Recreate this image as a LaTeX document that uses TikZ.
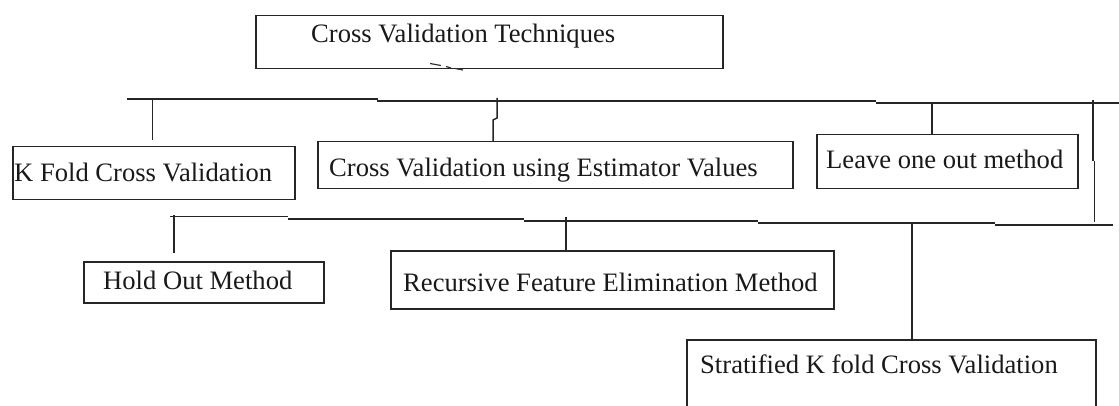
\documentclass[tikz,border=0pt]{standalone}
\usepackage{fontspec}
\setmainfont{Liberation Serif}
\begin{document}
\begin{tikzpicture}[x=1pt,y=-1pt,
  box/.style={draw=black!85, line width=1.5pt, inner sep=0pt, anchor=north west},
  txt/.style={inner sep=0pt, anchor=base west, font=\fontsize{26.6}{30}\selectfont, text=black!90},
  ln/.style={draw=black!85, line width=1.5pt}]
\clip (0,0) rectangle (1119,406);
% boxes
\node[box, minimum width=467pt, minimum height=53pt] (top) at (255,15) {};
\node[box, minimum width=282pt, minimum height=53pt] (kf) at (12,146) {};
\node[box, minimum width=475pt, minimum height=47pt] (est) at (317,141) {};
\node[box, minimum width=261pt, minimum height=54pt] (loo) at (816,134) {};
\node[box, minimum width=240pt, minimum height=41pt] (ho) at (83,261) {};
\node[box, minimum width=443pt, minimum height=58pt] (rfe) at (390,250) {};
\node[box, minimum width=409pt, minimum height=90pt] (skf) at (686,339) {};
% texts
\node[txt] (topt) at (311,43) {Cross Validation Techniques};
\node[txt] (kft) at (14,182) {K Fold Cross Validation};
\node[txt] (estt) at (329,177) {Cross Validation using Estimator Values};
\node[txt] (loot) at (826,169) {Leave one out method};
\node[txt] (hot) at (103,289) {Hold Out Method};
\node[txt] (rfet) at (403,291) {Recursive Feature Elimination Method};
\node[txt] (skft) at (700,373) {Stratified K fold Cross Validation};
% small mark under the title box
\draw[line width=1.2pt, black!80] (430,63.5) -- (441,65.5) (446,66.5) -- (451,68) (455,68.5) -- (463,70);
% upper bus
\coordinate (b1) at (127,99);
\coordinate (b2) at (378,99);
\coordinate (b3) at (377,101);
\coordinate (b4) at (876,101);
\coordinate (b5) at (876,103);
\coordinate (b6) at (1119,103);
\draw[ln] (b1) -- (b2);
\draw[ln] (b3) -- (b4);
\draw[ln] (b5) -- (b6);
% connectors from upper bus
\coordinate (kfa) at (152.5,99);
\coordinate (kfb) at (152.5,140);
\draw[ln] (kfa) -- (kfb);
\coordinate (esa) at (497,98);
\draw[ln] (esa) -- (497,118) -- (493,120) -- (est.north west -| 493,0);
\coordinate (looa) at (932,103);
\draw[ln] (looa) -- (loo.north west -| looa);
\coordinate (ra) at (1093,100);
\coordinate (rb) at (1093,161);
\coordinate (rc) at (1094.5,161);
\coordinate (rd) at (1094.5,222);
\draw[ln] (ra) -- (rb);
\draw[ln] (rc) -- (rd);
% lower bus
\draw[ln] (170,216.5) -- (288,216.5);
\draw[ln] (288,219) -- (524,219);
\draw[ln] (524,221) -- (758,221);
\draw[ln] (758,223) -- (995,223);
\draw[ln] (995,225) -- (1113,225);
% connectors from lower bus
\coordinate (hoa) at (174,215);
\coordinate (hob) at (174,253);
\draw[ln] (hoa) -- (hob);
\coordinate (rfa) at (566,217);
\draw[ln] (rfa) -- (rfe.north west -| rfa);
\coordinate (ska) at (912,223);
\draw[ln] (ska) -- (skf.north west -| ska);
\end{tikzpicture}
\end{document}
